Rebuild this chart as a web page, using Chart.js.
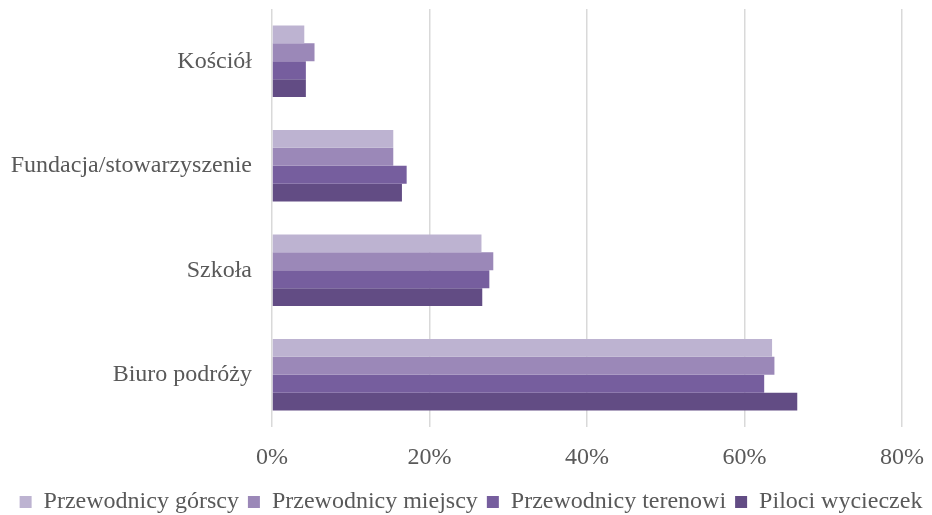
<!DOCTYPE html>
<html>
<head>
<meta charset="utf-8">
<script src="https://cdn.jsdelivr.net/npm/chart.js@4"></script>
<style>
  html, body { margin: 0; padding: 0; background: #fff; }
  #wrap { width: 932px; height: 515px; }
</style>
</head>
<body>
<div id="wrap"><canvas id="chart"></canvas></div>
<script>
const categories = ['Kościół', 'Fundacja/stowarzyszenie', 'Szkoła', 'Biuro podróży'];
const seriesNames = ['Przewodnicy górscy', 'Przewodnicy miejscy', 'Przewodnicy terenowi', 'Piloci wycieczek'];
const gorscy = [4.1, 15.4, 26.6, 63.5];
const miejscy = [5.4, 15.4, 28.1, 63.8];
const terenowi = [4.3, 17.1, 27.6, 62.5];
const piloci = [4.3, 16.5, 26.7, 66.7];
const tickValues = [0, 20, 40, 60, 80];

const colors = ['#bdb3d1', '#9b88b8', '#765e9e', '#624c84'];
const values = [gorscy, miejscy, terenowi, piloci];
const font = { family: 'Liberation Serif', size: 24 };

const ctx = document.getElementById('chart').getContext('2d');
new Chart(ctx, {
  type: 'bar',
  data: {
    labels: categories,
    datasets: seriesNames.map((name, i) => ({
      label: name,
      data: values[i],
      backgroundColor: colors[i],
      barPercentage: 1.0,
      categoryPercentage: 0.685,
    })),
  },
  options: {
    indexAxis: 'y',
    responsive: true,
    maintainAspectRatio: false,
    animation: false,
    layout: { padding: { top: 9, right: 0, left: 10, bottom: -9 } },
    scales: {
      x: {
        min: 0,
        max: 80,
        afterBuildTicks: (axis) => {
          axis.ticks = tickValues.map((v) => ({ value: v }));
        },
        afterFit: (axis) => {
          axis.paddingLeft = 0;
          axis.paddingRight = 30;
          axis.height = 54;
        },
        grid: { color: '#d9d9d9', lineWidth: 1.5, drawTicks: false },
        border: { display: false },
        ticks: {
          padding: 16,
          color: '#595959',
          font: font,
          callback: (v) => v + '%',
        },
      },
      y: {
        grid: { display: false, drawTicks: false },
        border: { display: false },
        afterFit: (axis) => {
          axis.paddingTop = 0;
          axis.paddingBottom = 0;
          axis.width = 262;
        },
        ticks: {
          padding: 20,
          color: '#595959',
          font: font,
        },
      },
    },
    plugins: {
      legend: {
        position: 'bottom',
        labels: {
          boxWidth: 12,
          boxHeight: 12,
          padding: 9,
          color: '#595959',
          font: font,
        },
      },
      tooltip: { enabled: false },
    },
  },
});
</script>
</body>
</html>
